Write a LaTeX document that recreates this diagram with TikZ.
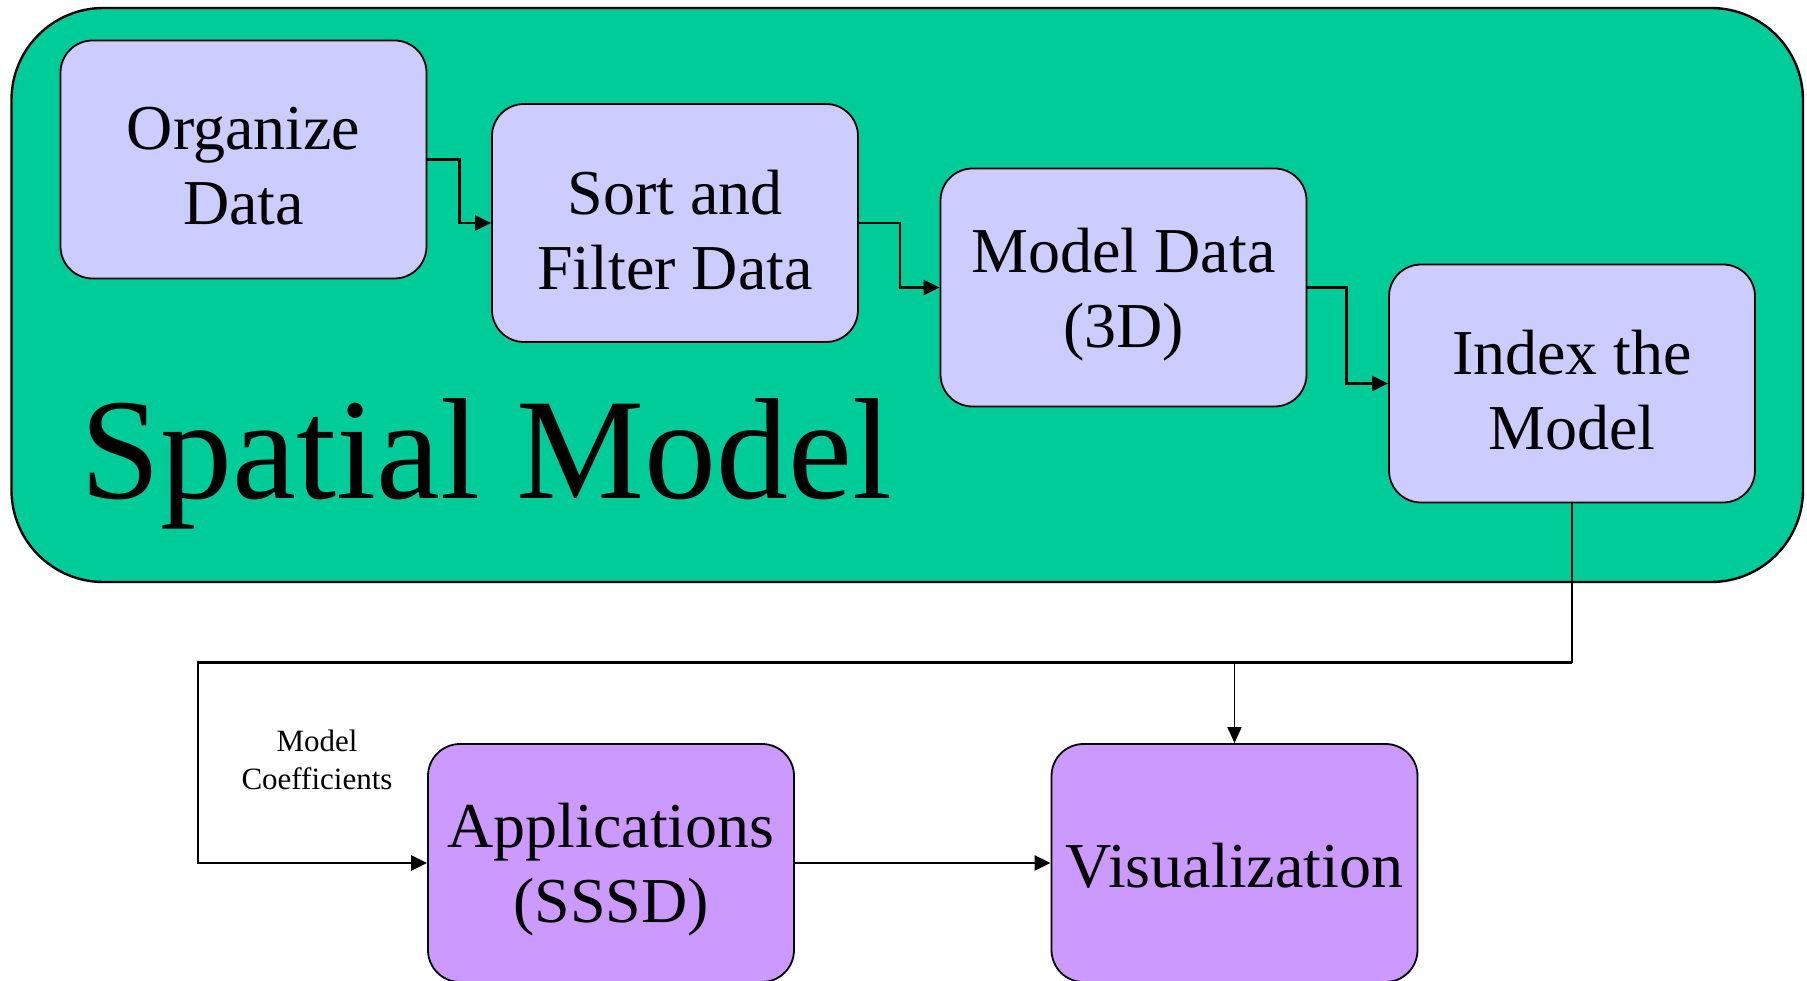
\documentclass[tikz,border=0pt]{standalone}
\usepackage{fontspec}
\setmainfont{Liberation Serif}
\usetikzlibrary{arrows.meta}

\definecolor{panelgreen}{RGB}{0,204,153}
\definecolor{steplav}{RGB}{204,204,255}
\definecolor{outpurple}{RGB}{204,153,255}

\begin{document}
\begin{tikzpicture}[x=1pt,y=-1pt,
  stepbox/.style={draw=black, line width=1.8pt, rounded corners=32pt,
    fill=steplav, minimum width=366pt, minimum height=238pt,
    inner sep=0pt},
  outbox/.style={stepbox, fill=outpurple},
  boxtext/.style={align=center, inner sep=0pt,
    font=\fontsize{64}{75}\selectfont},
  flow/.style={draw=black, line width=2.8pt,
    -{Triangle[length=16pt,width=15pt]}},
  thinflow/.style={draw=black, line width=1.6pt,
    -{Triangle[length=16pt,width=14pt]}}
]
\useasboundingbox (0,0) rectangle (1807,981);

% green panel holding the modelling steps
\draw[fill=panelgreen, line width=2.4pt, rounded corners=92pt]
  (11.5,8) rectangle (1803,582);

\node[anchor=base west, inner sep=0pt, font=\fontsize{144}{150}\selectfont] (title)
  at (80,498) {Spatial Model};

% modelling steps
\node[stepbox] (org)  at (243.5,159.5)  {};
\node[stepbox] (sort) at (675,223)      {};
\node[stepbox] (mdl)  at (1123.5,287.5) {};
\node[stepbox] (idx)  at (1572,383.5)   {};
\node[boxtext] (orgT)  at ([yshift=-7pt]org.center)  {Organize\\Data};
\node[boxtext] (sortT) at ([yshift=-7pt]sort.center) {Sort and\\Filter Data};
\node[boxtext] (mdlT)  at ([yshift=-7pt]mdl.center)  {Model Data\\(3D)};
\node[boxtext] (idxT)  at ([yshift=-7pt]idx.center)  {Index the\\Model};

% outputs
\node[outbox] (app) at (611,863)    {};
\node[outbox] (vis) at (1234.5,863) {};
\node[boxtext] (appT) at ([yshift=-7pt]app.center) {Applications\\(SSSD)};
\node[boxtext] (visT) at ([yshift=-3pt]vis.center) {Visualization};

\node[align=center, font=\fontsize{31}{38}\selectfont] (coef)
  at (317,760) {Model\\Coefficients};

% step-to-step connectors
\draw[flow] (org.east)  -- ++(32,0) |- (sort.west);
\draw[flow] (sort.east) -- ++(41,0) |- (mdl.west);
\draw[flow] (mdl.east)  -- ++(39,0) |- (idx.west);

% distribution of the indexed model
\coordinate (lft) at (198,662.5);
\coordinate (tap) at (1234.5,662.5);
\draw[draw=black, line width=2.2pt] (idx.south) -- (idx.south |- lft);
\draw[flow] (idx.south |- lft) -- (lft) |- (app.west);
\draw[thinflow] (tap) -- (vis.north);
\draw[flow] (app.east) -- (vis.west);
\end{tikzpicture}
\end{document}
